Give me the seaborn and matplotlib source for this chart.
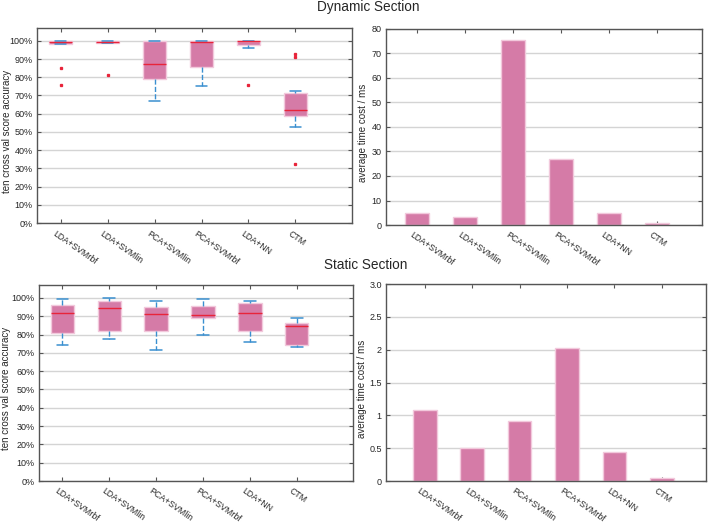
import numpy as np
import pandas as pd
import matplotlib
matplotlib.use('Agg')
import matplotlib.pyplot as plt
import matplotlib.transforms as mtransforms
import seaborn as sns

sns.set_theme(style="white")
plt.rcParams['font.family'] = ['Liberation Sans', 'DejaVu Sans']

methods = ['LDA+SVMrbf', 'LDA+SVMlin', 'PCA+SVMlin', 'PCA+SVMrbf', 'LDA+NN', 'CTM']

# ten cross val scores (%) for each method - dynamic section
dyn_lda_svmrbf = [75.5, 85.2, 98.0, 98.4, 99.5, 99.5, 99.7, 99.8, 100, 100]
dyn_lda_svmlin = [81.5, 98.7, 98.8, 98.9, 99.5, 99.5, 99.8, 99.8, 100, 100]
dyn_pca_svmlin = [67.0, 72.0, 79.0, 79.0, 87.0, 87.0, 100, 100, 100, 100]
dyn_pca_svmrbf = [75.0, 80.0, 85.5, 85.5, 99.3, 99.3, 100, 100, 100, 100]
dyn_lda_nn = [76.0, 96.0, 97.5, 97.5, 99.6, 99.6, 100, 100, 100, 100]
dyn_ctm = [32.5, 53.0, 58.5, 60.0, 61.5, 62.5, 67.0, 72.5, 91.0, 93.0]

# ten cross val scores (%) for each method - static section
sta_lda_svmrbf = [74.3, 79.0, 81.0, 81.0, 91.8, 91.8, 96.0, 96.0, 98.0, 99.3]
sta_lda_svmlin = [77.8, 80.0, 81.8, 81.8, 94.5, 94.5, 98.3, 98.3, 99.0, 100]
sta_pca_svmlin = [71.5, 78.0, 81.8, 81.8, 91.2, 91.2, 95.2, 95.2, 97.0, 98.3]
sta_pca_svmrbf = [80.0, 86.0, 89.0, 89.0, 90.8, 90.8, 95.7, 95.7, 97.0, 99.3]
sta_lda_nn = [76.0, 80.0, 81.8, 81.8, 91.8, 91.8, 97.0, 97.0, 97.5, 98.3]
sta_ctm = [73.2, 74.0, 74.5, 74.5, 84.5, 84.5, 86.3, 86.3, 87.5, 88.8]

# average time cost (ms)
dyn_time = [4.8, 3.1, 75.3, 26.8, 4.9, 0.8]
sta_time = [1.08, 0.50, 0.91, 2.02, 0.44, 0.05]

dyn_acc = [dyn_lda_svmrbf, dyn_lda_svmlin, dyn_pca_svmlin, dyn_pca_svmrbf, dyn_lda_nn, dyn_ctm]
sta_acc = [sta_lda_svmrbf, sta_lda_svmlin, sta_pca_svmlin, sta_pca_svmrbf, sta_lda_nn, sta_ctm]

pink = '#D57BA7'
pink_edge = '#F2C9DC'
red = '#E8243A'
blue = '#3A8FD0'
text_c = '#262626'


def long_df(scores):
    return pd.DataFrame({'method': np.repeat(methods, [len(s) for s in scores]),
                         'acc': np.concatenate(scores)})


def style_axes(ax, xlim, ylabel, label_x):
    ax.set_xlim(*xlim)
    ax.set_xlabel('')
    ax.set_ylabel(ylabel, fontsize=7, color=text_c)
    ax.yaxis.set_label_coords(label_x, 0.47)
    ax.yaxis.grid(True, color='#d4d4d4', linewidth=1)
    ax.xaxis.grid(False)
    ax.set_axisbelow(True)
    for sp in ax.spines.values():
        sp.set_visible(True)
        sp.set_color('#555555')
        sp.set_linewidth(1)
    ax.tick_params(direction='in', length=3, width=0.8, color='#555555',
                   top=True, right=True, bottom=True, left=True,
                   labelsize=6.5, labelcolor=text_c, pad=3)
    offset = mtransforms.ScaledTranslation(-3 / 72, -1 / 72, ax.figure.dpi_scale_trans)
    ax.set_xticks(range(len(methods)))
    ax.set_xticklabels(methods, rotation=-35, ha='left', va='top',
                       rotation_mode='anchor', fontsize=6.3, color=text_c)
    for lbl in ax.get_xticklabels():
        lbl.set_transform(lbl.get_transform() + offset)


def draw_box(ax, scores, xlim, label_x):
    sns.boxplot(data=long_df(scores), x='method', y='acc', ax=ax,
                color=pink, saturation=1, width=0.5, whis=1.5, fliersize=2,
                boxprops={'facecolor': pink, 'edgecolor': pink_edge, 'linewidth': 1},
                medianprops={'color': red, 'linewidth': 1},
                whiskerprops={'color': blue, 'linestyle': '--', 'linewidth': 1},
                capprops={'color': blue, 'linewidth': 1.1},
                flierprops={'marker': 's', 'markerfacecolor': red,
                            'markeredgecolor': red, 'markersize': 1.4})
    ax.set_ylim(0, 107)
    ax.set_yticks(range(0, 101, 10))
    ax.set_yticklabels([f'{v}%' for v in range(0, 101, 10)])
    style_axes(ax, xlim, 'ten cross val score accuracy', label_x)


def draw_bar(ax, values, ylim, yticks, yticklabels, xlim, label_x):
    sns.barplot(x=methods, y=values, ax=ax, color=pink, saturation=1, width=0.5,
                edgecolor=pink_edge, linewidth=1)
    ax.set_ylim(*ylim)
    ax.set_yticks(yticks)
    ax.set_yticklabels(yticklabels)
    style_axes(ax, xlim, 'average time cost / ms', label_x)


fig = plt.figure(figsize=(7.08, 5.24), dpi=100)
ax_tl = fig.add_axes([0.0523, 0.574, 0.4447, 0.3726])
ax_tr = fig.add_axes([0.545, 0.5706, 0.4465, 0.3741])
ax_bl = fig.add_axes([0.055, 0.082, 0.4436, 0.374])
ax_br = fig.add_axes([0.545, 0.082, 0.452, 0.376])

draw_box(ax_tl, dyn_acc, (-0.5, 6.2), -0.079)
draw_bar(ax_tr, dyn_time, (0, 80), range(0, 81, 10), [str(v) for v in range(0, 81, 10)],
         (-0.65, 5.94), -0.057)
draw_box(ax_bl, sta_acc, (-0.5, 6.2), -0.09)
draw_bar(ax_br, sta_time, (0, 3), [0, 0.5, 1, 1.5, 2, 2.5, 3],
         ['0', '0.5', '1', '1.5', '2', '2.5', '3.0'], (-0.82, 5.93), -0.059)

fig.text(368 / 708, 1 - 7 / 524, 'Dynamic Section', ha='center', va='center',
         fontsize=9.8, color=text_c)
fig.text(366 / 708, 1 - 265 / 524, 'Static Section', ha='center', va='center',
         fontsize=9.8, color=text_c)

fig.savefig('out.png', dpi=100)
